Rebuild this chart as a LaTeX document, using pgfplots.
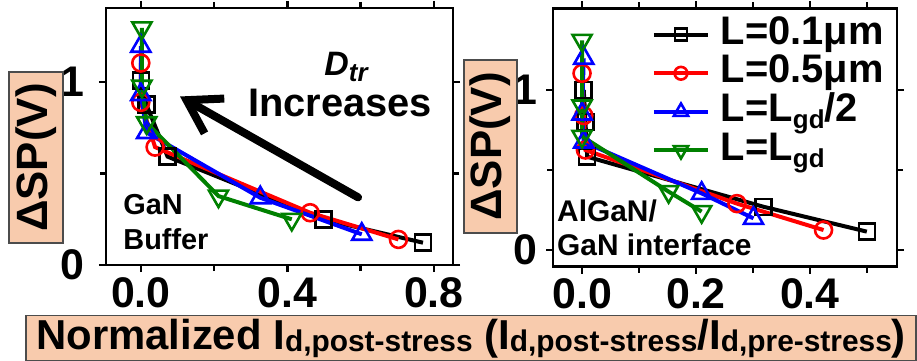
\documentclass[border=0pt]{standalone}
\usepackage{pgfplots}
\pgfplotsset{compat=1.18}
\usepackage{fontspec}
\setmainfont{Liberation Sans}
\usetikzlibrary{arrows.meta}

\definecolor{peach}{HTML}{F8CBAD}
\definecolor{dgreen}{HTML}{008000}

\newcommand{\fs}[1]{\fontsize{#1}{#1}\selectfont}
% smaller, slightly lowered subscript text
\newcommand{\sub}[3]{\raisebox{-#2bp}{\fs{#1}#3}}

\tikzset{
  ylab/.style={anchor=center, fill=peach, draw=black!70, line width=1.2bp,
    minimum width=171bp, minimum height=54bp, inner sep=0pt, font=\fs{44}\bfseries},
}

\pgfplotsset{
  panel/.style={
    scale only axis, clip=false,
    axis line style={line width=2.5bp, black},
    every tick/.style={black, line width=2.5bp},
    tick align=outside,
    major tick length=7bp, minor tick length=6bp,
    tick label style={font=\fs{43}\bfseries, inner sep=0pt},
    x tick label style={yshift=-5bp},
    legend image code/.code={
      \draw[mark repeat=2, mark phase=2, every mark/.append style={scale=0.75}]
        plot coordinates {(0bp,0bp)(27bp,0bp)(54bp,0bp)};
      \path (64bp,0bp);
    },
  },
  sA/.style={black, line width=4bp, mark=square, mark size=8bp, mark options={line width=2.6bp, solid}},
  sB/.style={red, line width=4bp, mark=o, mark size=8.5bp, mark options={line width=2.6bp, solid}},
  sC/.style={blue, line width=4bp, mark=triangle, mark size=11bp, mark options={line width=2.6bp, solid}},
  sD/.style={dgreen, line width=4bp, mark=triangle, mark size=11bp, mark options={line width=2.6bp, solid, rotate=180}},
}

\begin{document}
\begin{tikzpicture}
\useasboundingbox (0,0) rectangle (917bp,361bp);

% GaN buffer traps
\begin{axis}[panel,
  at={(106bp,96bp)}, anchor=south west,
  width=347bp, height=257bp,
  xmin=-0.095, xmax=0.852, ymin=0, ymax=1.406,
  xtick={0,0.4,0.8}, xticklabels={0.0,0.4,0.8}, minor xtick={0.2,0.6},
  ytick={0,1}, yticklabels={0,1}, minor ytick={0.5},
  y tick label style={xshift=-14bp},
  ylabel={ΔSP(V)},
  ylabel style={ylab, at={(rel axis cs:-0.2017,0.418)}},
  xlabel={Normalized I\sub{30}{2}{d,post-stress} (I\sub{30}{2}{d,post-stress}/I\sub{30}{2}{d,pre-stress})},
  xlabel style={at={(rel axis cs:1.052,-0.285)}, anchor=center, fill=peach,
    draw=black!70, line width=1.2bp, minimum width=890bp, minimum height=45bp,
    inner sep=0pt, font=\fs{42}\bfseries},
]
\addplot[sA] coordinates {(0,1.01) (0.015,0.878) (0.073,0.593) (0.498,0.25) (0.77,0.122)};
\addplot[sB] coordinates {(0,1.105) (0,0.89) (0.039,0.645) (0.462,0.286) (0.703,0.14)};
\addplot[sC] coordinates {(0,1.197) (0,0.933) (0.016,0.725) (0.326,0.368) (0.603,0.168)};
\addplot[sD] coordinates {(0.003,1.297) (0.003,0.978) (0.016,0.778) (0.212,0.377) (0.412,0.25)};

\draw[line width=8bp, line cap=round, -{Straight Barb[length=32bp,width=40bp]}]
  (axis cs:0.593,0.37) -- (axis cs:0.107,0.922);
\node[font=\fs{34}\bfseries\itshape, anchor=base, inner sep=0pt] at (axis cs:0.56,1.035)
  {D\raisebox{-6bp}{\fs{26}tr}};
\node[font=\fs{40}\bfseries, anchor=base, inner sep=0pt] at (axis cs:0.544,0.814) {Increases};
\node[font=\fs{29}\bfseries, anchor=base west, inner sep=0pt] at (axis cs:-0.048,0.277) {GaN};
\node[font=\fs{29}\bfseries, anchor=base west, inner sep=0pt] at (axis cs:-0.048,0.086) {Buffer};
\end{axis}

% AlGaN/GaN interface traps
\begin{axis}[panel,
  at={(553bp,94.3bp)}, anchor=south west,
  width=344bp, height=258.4bp,
  xmin=-0.051, xmax=0.553, ymin=-0.104, ymax=1.51,
  xtick={0,0.2,0.4}, xticklabels={0.0,0.2,0.4}, minor xtick={0.1,0.3,0.5},
  ytick={0,1}, yticklabels={0,1}, minor ytick={0.5},
  y tick label style={xshift=-8bp},
  ylabel={ΔSP(V)},
  ylabel style={ylab, minimum width=173bp, minimum height=53bp, at={(rel axis cs:-0.1817,0.465)}},
  legend style={at={(rel axis cs:1,1)}, anchor=north east, xshift=-12bp, yshift=-7bp,
    draw=none, fill=none, font=\fs{40}\bfseries, inner sep=0pt, row sep=0pt,
    nodes={inner sep=1bp, text height=28bp, text depth=8.5bp}},
  legend cell align=left,
]
\addplot[sA] coordinates {(0.003,1.0) (0.006,0.80) (0.009,0.583) (0.319,0.27) (0.5,0.115)};
\addlegendentry{L=0.1μm}
\addplot[sB] coordinates {(0,1.104) (0.003,0.84) (0.006,0.625) (0.272,0.29) (0.424,0.125)};
\addlegendentry{L=0.5μm}
\addplot[sC] coordinates {(0.003,1.198) (0,0.85) (0.003,0.675) (0.21,0.354) (0.301,0.198)};
\addlegendentry{L=L\sub{26}{7}{gd}/2}
\addplot[sD] coordinates {(0,1.31) (0,0.90) (0,0.71) (0.152,0.365) (0.21,0.24)};
\addlegendentry{L=L\sub{26}{7}{gd}}

\node[font=\fs{30}\bfseries, anchor=base west, inner sep=0pt] at (axis cs:-0.044,0.177) {AlGaN/};
\node[font=\fs{30}\bfseries, anchor=base west, inner sep=0pt] at (axis cs:-0.044,-0.031) {GaN interface};
\end{axis}
\end{tikzpicture}
\end{document}
